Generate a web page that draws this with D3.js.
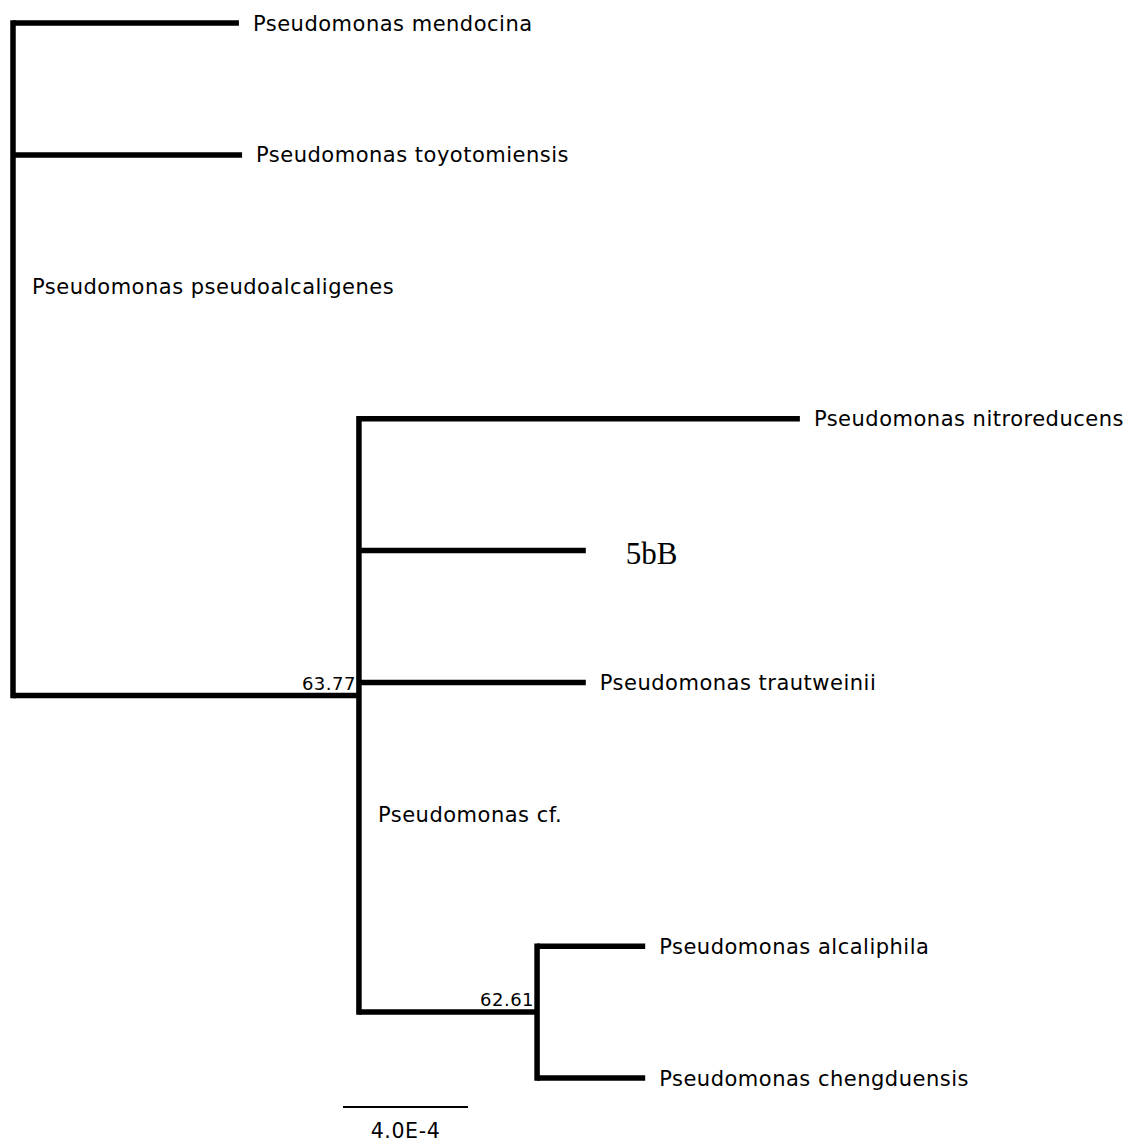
<!DOCTYPE html>
<html><head><meta charset="utf-8">
<script src="https://cdn.jsdelivr.net/npm/d3@7"></script>
<style>body{margin:0;background:#fff}</style>
</head><body>
<script>
// Tree data (ids, parents, branch lengths in substitutions/site, support values)
const nodeIds = ["root","mendocina","toyotomiensis","pseudoalcaligenes","n1","nitroreducens","5bB","trautweinii","cf","n2","alcaliphila","chengduensis"];
const parentIds = ["",  "root","root","root","root","n1","n1","n1","n1","n1","n2","n2"];
const branchLengths = [0, 7.23e-4, 7.33e-4, 0, 1.107e-3, 1.411e-3, 7.26e-4, 7.26e-4, 0, 5.70e-4, 3.46e-4, 3.46e-4];
const tipLabels = ["", "Pseudomonas mendocina","Pseudomonas toyotomiensis","Pseudomonas pseudoalcaligenes","","Pseudomonas nitroreducens","5bB","Pseudomonas trautweinii","Pseudomonas cf.","","Pseudomonas alcaliphila","Pseudomonas chengduensis"];
const supportValues = ["","","","","63.77","","","","","62.61","",""];
const scaleBarValue = 4.0e-4;
const scaleBarLabel = "4.0E-4";

const W = 1130, H = 1144;
const svg = d3.select("body").append("svg").attr("width", W).attr("height", H);

const table = nodeIds.map((id,i)=>({id, parent: parentIds[i]||null, len: branchLengths[i], label: tipLabels[i], support: supportValues[i]}));
const root = d3.stratify().id(d=>d.id).parentId(d=>d.parent)(table);

root.each(n=>{ n.depth_ = (n.parent? n.parent.depth_ : 0) + n.data.len; });
const leaves = root.leaves();
const maxDepth = d3.max(leaves, l=>l.depth_);

const x = d3.scaleLinear().domain([0, maxDepth]).range([13, 13 + maxDepth * 125/4e-4]);
const y = d3.scalePoint().domain(leaves.map(l=>l.id)).range([23, 1078]);

leaves.forEach(l=> l.y_ = y(l.id));
root.eachAfter(n=>{ if(n.children) n.y_ = d3.mean(n.children, c=>c.y_); });

const g = svg.append("g");
const SW = 5.5;
const sans = "'DejaVu Sans', sans-serif";
root.descendants().filter(n=>n.parent).forEach(n=>{
  if (n.data.len > 0) {
    g.append("line").attr("x1", x(n.parent.depth_)).attr("x2", x(n.depth_))
     .attr("y1", n.y_).attr("y2", n.y_)
     .attr("stroke","#000").attr("stroke-width",SW);
  }
});
root.descendants().filter(n=>n.children).forEach(n=>{
  const ys = n.children.map(c=>c.y_);
  g.append("line").attr("x1", x(n.depth_)).attr("x2", x(n.depth_))
   .attr("y1", d3.min(ys)-SW/2).attr("y2", d3.max(ys)+SW/2)
   .attr("stroke","#000").attr("stroke-width",SW);
});
leaves.forEach(l=>{
  const isSerif = l.data.label === "5bB";
  const off = isSerif ? 40 : (l.data.len > 0 ? 14 : 19);
  g.append("text")
   .attr("x", x(l.depth_) + off)
   .attr("y", l.y_)
   .attr("dy", isSerif ? "0.42em" : "0.36em")
   .attr("font-family", isSerif ? "'Liberation Serif', 'Times New Roman', serif" : sans)
   .attr("font-size", isSerif ? 31 : 21)
   .attr("letter-spacing", isSerif ? 0 : 0.5)
   .attr("fill","#000")
   .text(l.data.label);
});
root.descendants().filter(n=>n.data.support).forEach(n=>{
  g.append("text")
   .attr("x", x(n.depth_) - 3)
   .attr("y", n.y_ - 6)
   .attr("text-anchor","end")
   .attr("font-family",sans)
   .attr("font-size",18)
   .attr("letter-spacing",0.5)
   .attr("fill","#000")
   .text(n.data.support);
});
const sb0 = 343;
const sbLen = x(scaleBarValue) - x(0);
g.append("line").attr("x1", sb0).attr("x2", sb0 + sbLen).attr("y1",1107).attr("y2",1107)
 .attr("stroke","#000").attr("stroke-width",2);
g.append("text").attr("x", sb0 + sbLen/2).attr("y", 1138).attr("text-anchor","middle")
 .attr("font-family",sans).attr("font-size",20.5).attr("letter-spacing",0.6).attr("fill","#000")
 .text(scaleBarLabel);
</script>
</body></html>
